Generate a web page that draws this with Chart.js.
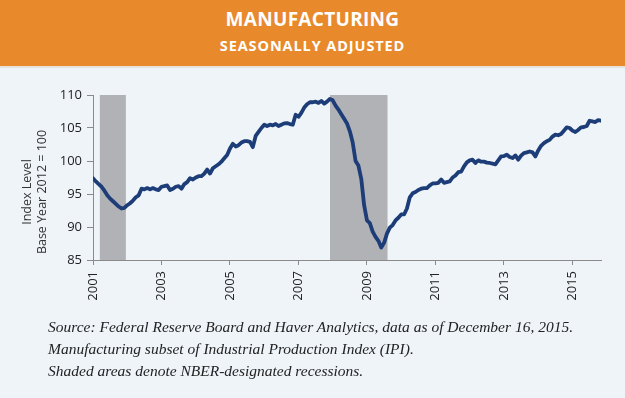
<!DOCTYPE html>
<html>
<head>
<meta charset="utf-8">
<script src="https://cdn.jsdelivr.net/npm/chart.js@4"></script>
<style>
  body { margin: 0; width: 625px; height: 398px; background: #eff4f9; position: relative; overflow: hidden; }
  #header { position: absolute; left: 0; top: 0; width: 625px; height: 66px; background: #e8892b;
            border-bottom: 2px solid #e6e2dc; color: #fff; text-align: center; font-family: "Open Sans", sans-serif; font-weight: 700; }
  #title { position: absolute; left: 0; width: 625px; top: 6px; font-size: 19px; letter-spacing: 0.3px; }
  #subtitle { position: absolute; left: 0; width: 625px; top: 36px; font-size: 14.5px; letter-spacing: 0.9px; }
  #chartBox { position: absolute; left: 0; top: 70px; width: 625px; height: 250px; }
  #notes { position: absolute; left: 48px; top: 316px; font-family: "Liberation Serif", serif; font-style: italic;
           font-size: 15.5px; line-height: 22px; color: #222; }
</style>
</head>
<body>
<div id="header">
  <div id="title">MANUFACTURING</div>
  <div id="subtitle">SEASONALLY ADJUSTED</div>
</div>
<div id="chartBox"><canvas id="mfgChart" width="625" height="250"></canvas></div>
<div id="notes">
  Source: Federal Reserve Board and Haver Analytics, data as of December 16, 2015.<br>
  Manufacturing subset of Industrial Production Index (IPI).<br>
  Shaded areas denote NBER-designated recessions.
</div>
<script>
// monthly index values, Jan 2001 .. Nov 2015
const startYear = 2001;
const indexValues = [
  97.4, 96.9, 96.5, 96.1, 95.5, 94.8, 94.3, 93.9, 93.5, 93.1, 92.8, 92.9,   // 2001
  93.3, 93.6, 94.0, 94.5, 94.8, 95.8, 95.7, 95.9, 95.7, 95.9, 95.7, 95.6,   // 2002
  96.1, 96.2, 96.3, 95.6, 95.8, 96.1, 96.2, 95.8, 96.5, 96.8, 97.4, 97.2,   // 2003
  97.5, 97.7, 97.7, 98.1, 98.7, 98.1, 98.9, 99.2, 99.5, 99.9, 100.4, 100.9, // 2004
  101.9, 102.6, 102.2, 102.4, 102.8, 103.0, 103.0, 102.9, 102.1, 103.8, 104.4, 105.0, // 2005
  105.5, 105.3, 105.5, 105.4, 105.6, 105.3, 105.5, 105.7, 105.75, 105.6, 105.5, 107.0, // 2006
  106.7, 107.3, 108.1, 108.6, 108.9, 108.9, 109.0, 108.8, 109.1, 108.7, 109.0, 109.4, // 2007
  109.2, 108.4, 107.8, 107.1, 106.4, 105.7, 104.5, 102.8, 100.0, 99.3, 97.3, 93.3,   // 2008
  91.0, 90.6, 89.3, 88.5, 87.9, 86.9, 87.6, 89.0, 89.9, 90.3, 91.0, 91.4,   // 2009
  91.9, 91.9, 92.8, 94.5, 95.1, 95.3, 95.6, 95.8, 95.9, 95.9, 96.3, 96.6,   // 2010
  96.6, 96.7, 97.2, 96.7, 96.8, 96.9, 97.5, 97.8, 98.3, 98.4, 99.2, 99.8,   // 2011
  100.1, 100.2, 99.7, 100.1, 99.9, 99.9, 99.75, 99.7, 99.6, 99.5, 100.1, 100.7, // 2012
  100.75, 100.95, 100.6, 100.45, 100.85, 100.2, 100.8, 101.2, 101.3, 101.45, 101.3, 100.7, // 2013
  101.6, 102.3, 102.7, 103.0, 103.2, 103.7, 104.0, 103.9, 104.1, 104.6, 105.1, 105.0, // 2014
  104.6, 104.4, 104.7, 105.1, 105.15, 105.3, 106.1, 106.0, 105.9, 106.2, 106.1        // 2015
];
const yearTicks = [2001, 2003, 2005, 2007, 2009, 2011, 2013, 2015];
const valueTicks = [85, 90, 95, 100, 105, 110];
// NBER recessions as shown (fractional years)
const recessionStart = [2001.2, 2007.92];
const recessionEnd = [2001.96, 2009.6];

const points = indexValues.map((v, i) => ({ x: startYear + i / 12, y: v }));

// gray recession bands, drawn through the scales
const recessionBands = {
  id: 'recessionBands',
  beforeDatasetsDraw(chart) {
    const { ctx, scales: { x, y } } = chart;
    ctx.save();
    ctx.fillStyle = '#b1b2b5';
    const top = y.getPixelForValue(valueTicks[valueTicks.length - 1]);
    const bottom = y.getPixelForValue(valueTicks[0]);
    recessionStart.forEach((s, i) => {
      const x0 = x.getPixelForValue(s);
      const x1 = x.getPixelForValue(recessionEnd[i]);
      ctx.fillRect(x0, top, x1 - x0, bottom - top);
    });
    ctx.restore();
  }
};

// two-line y axis title
const yTitle = {
  id: 'yTitle',
  afterDraw(chart) {
    const ctx = chart.ctx;
    const cy = 122;
    ctx.save();
    ctx.fillStyle = '#333';
    ctx.font = '12.5px "Open Sans", sans-serif';
    ctx.textAlign = 'center';
    ctx.textBaseline = 'middle';
    [['Index Level', 27], ['Base Year 2012 = 100', 42]].forEach(([t, x]) => {
      ctx.save();
      ctx.translate(x, cy);
      ctx.rotate(-Math.PI / 2);
      ctx.fillText(t, 0, 0);
      ctx.restore();
    });
    ctx.restore();
  }
};

new Chart(document.getElementById('mfgChart').getContext('2d'), {
  type: 'line',
  data: {
    datasets: [{
      data: points,
      borderColor: '#1d3d78',
      borderWidth: 3.8,
      borderJoinStyle: 'round',
      borderCapStyle: 'round',
      pointRadius: 0,
      tension: 0,
      fill: false
    }]
  },
  options: {
    responsive: false,
    animation: false,
    layout: { padding: { top: 25, right: 24, left: 0, bottom: 0 } },
    plugins: { legend: { display: false }, tooltip: { enabled: false } },
    scales: {
      x: {
        type: 'linear',
        min: startYear,
        max: startYear + (indexValues.length - 1) / 12,
        afterBuildTicks: s => { s.ticks = yearTicks.map(v => ({ value: v })); },
        afterFit: s => { s.height = 60; },
        ticks: {
          minRotation: 90, maxRotation: 90, autoSkip: false, padding: 6,
          color: '#222', font: { family: 'Open Sans', size: 13 },
          callback: v => String(v)
        },
        grid: { display: true, drawOnChartArea: false, drawTicks: true, tickLength: 5, color: '#8a8a8a' },
        border: { display: true, color: '#8a8a8a', width: 1 }
      },
      y: {
        min: 85, max: 110,
        afterBuildTicks: s => { s.ticks = valueTicks.map(v => ({ value: v })); },
        afterFit: s => { s.width = 93; },
        ticks: { color: '#222', padding: 5, font: { family: 'Open Sans', size: 13 } },
        grid: { display: true, drawOnChartArea: false, drawTicks: true, tickLength: 6, color: '#8a8a8a' },
        border: { display: true, color: '#8a8a8a', width: 1 }
      }
    }
  },
  plugins: [recessionBands, yTitle]
});
</script>
</body>
</html>
